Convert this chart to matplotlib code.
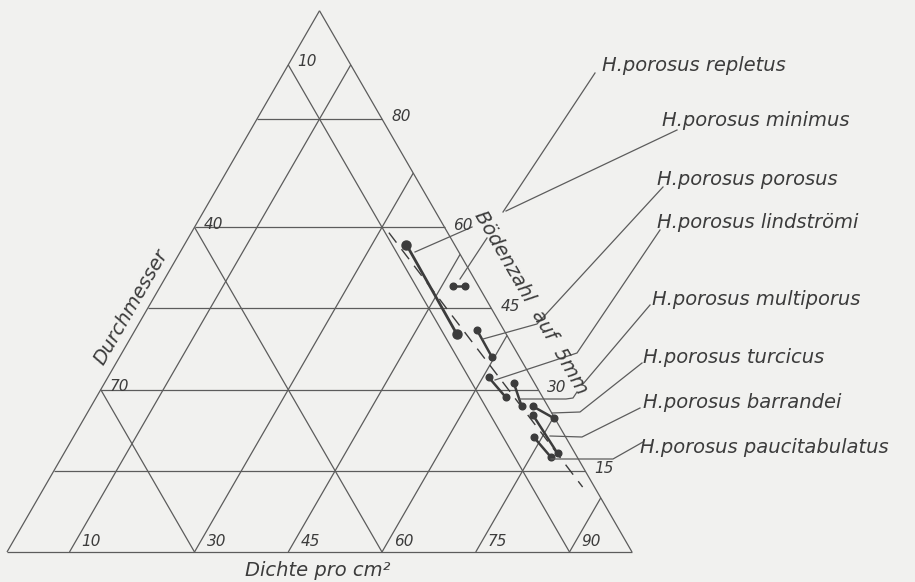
#!/usr/bin/env python3
"""Ternary diagram of H. porosus subspecies (Durchmesser / Dichte / Bödenzahl)."""

from __future__ import annotations

import math

import matplotlib

matplotlib.use("Agg")

import matplotlib.pyplot as plt

# --- data (percent of each component) ---------------------------------------
SPECIES = [
    "H.porosus repletus",
    "H.porosus minimus",
    "H.porosus porosus",
    "H.porosus lindströmi",
    "H.porosus multiporus",
    "H.porosus turcicus",
    "H.porosus barrandei",
    "H.porosus paucitabulatus",
]
DICHTE_START = [46.7, 35.5, 54.6, 60.9, 65.5, 70.7, 71.4, 73.7]
DICHTE_END = [48.6, 51.9, 59.5, 65.5, 68.9, 75.2, 79.0, 78.3]
BOEDEN_START = [49.2, 56.8, 41.1, 32.3, 31.2, 26.9, 25.4, 21.2]
BOEDEN_END = [49.2, 40.2, 36.1, 28.6, 26.9, 24.7, 18.2, 17.5]

TREND_DICHTE = [31.6, 86.1]
TREND_BOEDEN = [59.0, 12.0]

DICHTE_TICKS = [10, 30, 45, 60, 75, 90]
BOEDEN_TICKS = [15, 30, 45, 60, 80]
DURCHMESSER_TICKS = [10, 40, 70]

# --- layout (figure pixels) -------------------------------------------------
W, H = 915, 582
X0, Y0, SIDE = 7.0, 552.0, 625.0
HGT = SIDE * math.sqrt(3) / 2

LABEL_POS = [(602, 71), (662, 126), (657, 185), (657, 228),
             (652, 305), (643, 363), (643, 408), (640, 453)]
LEADERS = [
    [[(595, 73), (503, 212)], [(487, 238), (460, 279)]],
    [[(677, 130), (506, 211)], [(472, 227), (415, 252)]],
    [[(663, 187), (537, 324), (483, 339)]],
    [[(660, 230), (577, 353), (495, 380)]],
    [[(650, 305), (583, 384)], [(577, 392), (573, 398), (566, 399), (520, 399)]],
    [[(642, 363), (580, 412), (552, 413)]],
    [[(640, 408), (582, 437), (550, 436)]],
    [[(643, 442), (613, 459), (551, 459)]],
]

INK = "#3c3c3c"
GRID = "#5c5c5c"
BG = "#f1f1ef"
FONT = dict(family="DejaVu Sans", style="oblique", color=INK)


def to_xy(dichte, boeden):
    x = X0 + (dichte + boeden / 2.0) / 100.0 * SIDE
    y = Y0 - boeden / 100.0 * HGT
    return x, y


def line(ax, p, q, **kw):
    (x1, y1), (x2, y2) = to_xy(*p), to_xy(*q)
    ax.plot([x1, x2], [y1, y2], **kw)


def main() -> int:
    fig = plt.figure(figsize=(W / 100, H / 100), dpi=100, facecolor=BG)
    ax = fig.add_axes([0, 0, 1, 1])
    ax.set_xlim(0, W)
    ax.set_ylim(H, 0)
    ax.set_facecolor(BG)
    ax.axis("off")

    grid = dict(color=GRID, lw=0.9, solid_capstyle="butt")

    # triangle outline
    line(ax, (0, 0), (100, 0), **grid)
    line(ax, (0, 0), (0, 100), **grid)
    line(ax, (100, 0), (0, 100), **grid)

    # Dichte: lines parallel to the left edge
    for d in DICHTE_TICKS:
        line(ax, (d, 0), (d, 100 - d), **grid)
        x, y = to_xy(d, 0)
        ax.text(x + 12, y - 3, str(d), fontsize=11, ha="left", va="bottom", **FONT)

    # Bödenzahl: horizontal lines
    for b in BOEDEN_TICKS:
        line(ax, (0, b), (100 - b, b), **grid)
        x, y = to_xy(100 - b, b)
        ax.text(x + 9, y - 2, str(b), fontsize=11, ha="left", va="center", **FONT)

    # Durchmesser: lines parallel to the right edge
    for m in DURCHMESSER_TICKS:
        line(ax, (0, 100 - m), (100 - m, 0), **grid)
        x, y = to_xy(0, 100 - m)
        ax.text(x + 9, y - 3, str(m), fontsize=11, ha="left", va="center", **FONT)

    # trend line
    tx, ty = zip(*[to_xy(d, b) for d, b in zip(TREND_DICHTE, TREND_BOEDEN)])
    ax.plot(tx, ty, color=INK, lw=1.0, dashes=(9, 6))

    # subspecies ranges
    for i, name in enumerate(SPECIES):
        p = to_xy(DICHTE_START[i], BOEDEN_START[i])
        q = to_xy(DICHTE_END[i], BOEDEN_END[i])
        big = name.endswith("minimus")
        ax.plot([p[0], q[0]], [p[1], q[1]], color=INK, lw=2.0 if big else 1.8,
                marker="o", ms=6.5 if big else 4.8, mfc=INK, mec=INK)

        for part in LEADERS[i]:
            xs, ys = zip(*part)
            ax.plot(xs, ys, color=GRID, lw=0.9)
        lx, ly = LABEL_POS[i]
        ax.text(lx, ly, name, fontsize=14, ha="left", va="baseline", **FONT)

    # axis titles
    ax.text(318, 571, "Dichte pro cm²", fontsize=14, ha="center", va="center", **FONT)
    ax.text(131, 307, "Durchmesser", fontsize=14, rotation=60,
            ha="center", va="center", rotation_mode="anchor", **FONT)
    ax.text(531, 303, "Bödenzahl  auf  5mm", fontsize=14, rotation=-60,
            ha="center", va="center", rotation_mode="anchor", **FONT)

    fig.savefig("out.png", dpi=100, facecolor=BG)
    return 0


if __name__ == "__main__":
    raise SystemExit(main())
